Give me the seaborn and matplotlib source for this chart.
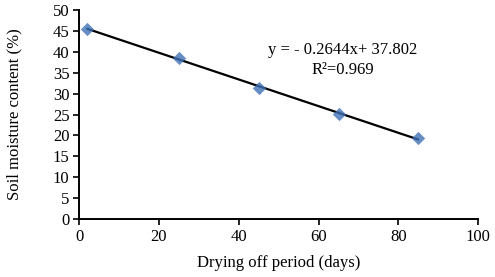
import numpy as np
import pandas as pd
import seaborn as sns
import matplotlib.pyplot as plt

# drying off period (days) vs soil moisture (%)
days = [2, 25, 45, 65, 85]
moisture = [45.5, 38.6, 31.3, 25.1, 19.4]

df = pd.DataFrame({'days': days, 'moisture': moisture})

sns.set_style('ticks')
plt.rcParams['font.family'] = ['Liberation Serif', 'DejaVu Serif']
plt.rcParams['text.color'] = 'black'
plt.rcParams['axes.labelcolor'] = 'black'

fig = plt.figure(figsize=(4.95, 2.77), dpi=100)
ax = fig.add_axes([0.160, 0.209, 0.806, 0.755])

sns.regplot(data=df, x='days', y='moisture', ax=ax, ci=None, truncate=True,
            marker='D',
            scatter_kws={'color': '#3F72B6', 's': 46, 'zorder': 3, 'linewidths': 0},
            line_kws={'color': 'black', 'lw': 1.6, 'zorder': 2})

ax.set_xlim(0, 100)
ax.set_ylim(0, 50)
ax.set_xticks(np.arange(0, 101, 20))
ax.set_yticks(np.arange(0, 51, 5))
ax.tick_params(labelsize=12, length=4, width=1.2, colors='black', pad=3)
for s in ['left', 'bottom']:
    ax.spines[s].set_linewidth(1.4)
    ax.spines[s].set_color('black')
sns.despine(ax=ax)

ax.set_xlabel('Drying off period (days)', fontsize=12, labelpad=7)
ax.set_ylabel('Soil moisture content (%)', fontsize=12, labelpad=22)

ax.text(66, 40.4, 'y = - 0.2644x+ 37.802', fontsize=12, ha='center', va='center')
ax.text(66, 35.6, 'R²=0.969', fontsize=12, ha='center', va='center')

fig.savefig('out.png', dpi=100)
